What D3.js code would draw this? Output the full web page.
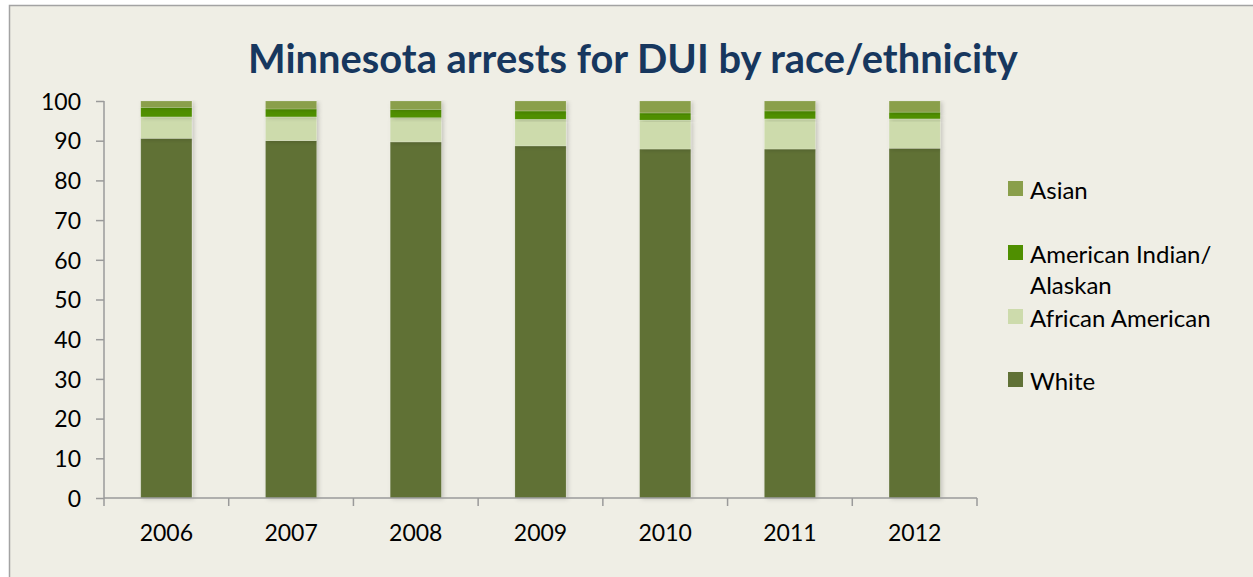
<!DOCTYPE html>
<html><head><meta charset="utf-8">
<script src="https://cdn.jsdelivr.net/npm/d3@7"></script>
<style>html,body{margin:0;padding:0;background:#fff;}svg{display:block;}</style>
</head><body>
<script>
const years = ["2006","2007","2008","2009","2010","2011","2012"];
const white = [90.6, 90.0, 89.7, 88.7, 87.9, 87.9, 88.1];
const africanAmerican = [5.4, 6.0, 6.1, 6.7, 7.3, 7.6, 7.4];
const americanIndian = [2.4, 2.0, 2.1, 2.1, 1.8, 2.0, 1.7];
const asian = [1.6, 2.0, 2.1, 2.5, 3.0, 2.5, 2.8];
const yTicks = [0,10,20,30,40,50,60,70,80,90,100];
const seriesNames = ["White","African American","American Indian/ Alaskan","Asian"];
const seriesColors = ["#607136","#cddbac","#4f8f00","#8a9f4b"];
const legendOrder = ["Asian","American Indian/ Alaskan","African American","White"];

const W = 1253, H = 577;
const svg = d3.select("body").append("svg").attr("width", W).attr("height", H);
const defs = svg.append("defs");
const f = defs.append("filter").attr("id","sh").attr("x","-20%").attr("y","-5%").attr("width","150%").attr("height","120%");
f.append("feDropShadow").attr("dx",2).attr("dy",1).attr("stdDeviation",2).attr("flood-color","#000").attr("flood-opacity",0.18);

svg.append("rect").attr("x",9.5).attr("y",5.5).attr("width",W).attr("height",H)
  .attr("fill","#efeee5").attr("stroke","#a3a3a3").attr("stroke-width",1.5);

const font = "Lato, 'Open Sans', sans-serif";
const x = d3.scaleBand().domain(years).range([104, 977]).paddingInner(0.59).paddingOuter(0.295);
const y = d3.scaleLinear().domain([0,100]).range([498, 101]);

const rows = years.map((yr,i)=>({year:yr, "White":white[i], "African American":africanAmerican[i], "American Indian/ Alaskan":americanIndian[i], "Asian":asian[i]}));
const stack = d3.stack().keys(seriesNames)(rows);

const gBars = svg.append("g");
stack.forEach((s,k)=>{
  gBars.append("g").attr("fill", seriesColors[k]).attr("filter","url(#sh)")
    .selectAll("rect").data(s).join("rect")
    .attr("x", d=>x(d.data.year)).attr("width", x.bandwidth())
    .attr("y", d=>y(d[1])).attr("height", d=>y(d[0])-y(d[1]))
    .attr("stroke","rgba(255,255,255,0.25)").attr("stroke-width",0.6);
});

// axes
const yAxis = d3.axisLeft(y).tickValues(yTicks).tickSize(8).tickPadding(15);
const gy = svg.append("g").attr("transform","translate(104,0)").call(yAxis);
const xAxis = d3.axisBottom(x).tickSize(0).tickPadding(38);
const gx = svg.append("g").attr("transform","translate(0,498)").call(xAxis);
const bounds = d3.range(years.length+1).map(i=>104 + i*(977-104)/years.length);
gx.selectAll(".bt").data(bounds).join("line").attr("class","bt")
  .attr("x1",d=>d).attr("x2",d=>d).attr("y1",0).attr("y2",8).attr("stroke","#9a9a9a").attr("stroke-width",1.5);
[gy,gx].forEach(g=>{
  g.select(".domain").attr("stroke","#9a9a9a").attr("stroke-width",1.5);
  g.selectAll(".tick line").attr("stroke","#9a9a9a").attr("stroke-width",1.5);
  g.selectAll("text").attr("font-family",font).attr("font-size",23).attr("fill","#000");
});
gx.select(".domain").attr("d","M104,0H977");
gy.select(".domain").attr("d", null);
gy.append("line").attr("x1",0).attr("x2",0).attr("y1",101).attr("y2",498).attr("stroke","#9a9a9a").attr("stroke-width",1.5);
gy.selectAll("text").attr("dy","0.36em");
gx.selectAll("text").attr("dy","0.2em");

// title
const title = svg.append("text").attr("x",633).attr("y",73).attr("text-anchor","middle")
  .attr("font-family",font).attr("font-weight","bold").attr("font-size",38).attr("fill","#17375e")
  .text("Minnesota arrests for DUI by race/ethnicity");
const tw = title.node().getComputedTextLength();
title.attr("font-size", 38*770/tw);

// legend
const legY = {"Asian":199, "American Indian/ Alaskan":263, "African American":327, "White":390};
const lg = svg.append("g");
legendOrder.forEach(name=>{
  const k = seriesNames.indexOf(name);
  const by = legY[name];
  lg.append("rect").attr("x",1008).attr("y",by-18).attr("width",15).attr("height",15).attr("fill",seriesColors[k]);
  const t = lg.append("text").attr("x",1030).attr("y",by).attr("font-family",font).attr("font-size",24).attr("fill","#000");
  if (name.indexOf("/")>=0){
    t.append("tspan").attr("x",1030).text("American Indian/");
    t.append("tspan").attr("x",1030).attr("dy",31).text("Alaskan");
  } else t.text(name);
});
</script>
</body></html>
